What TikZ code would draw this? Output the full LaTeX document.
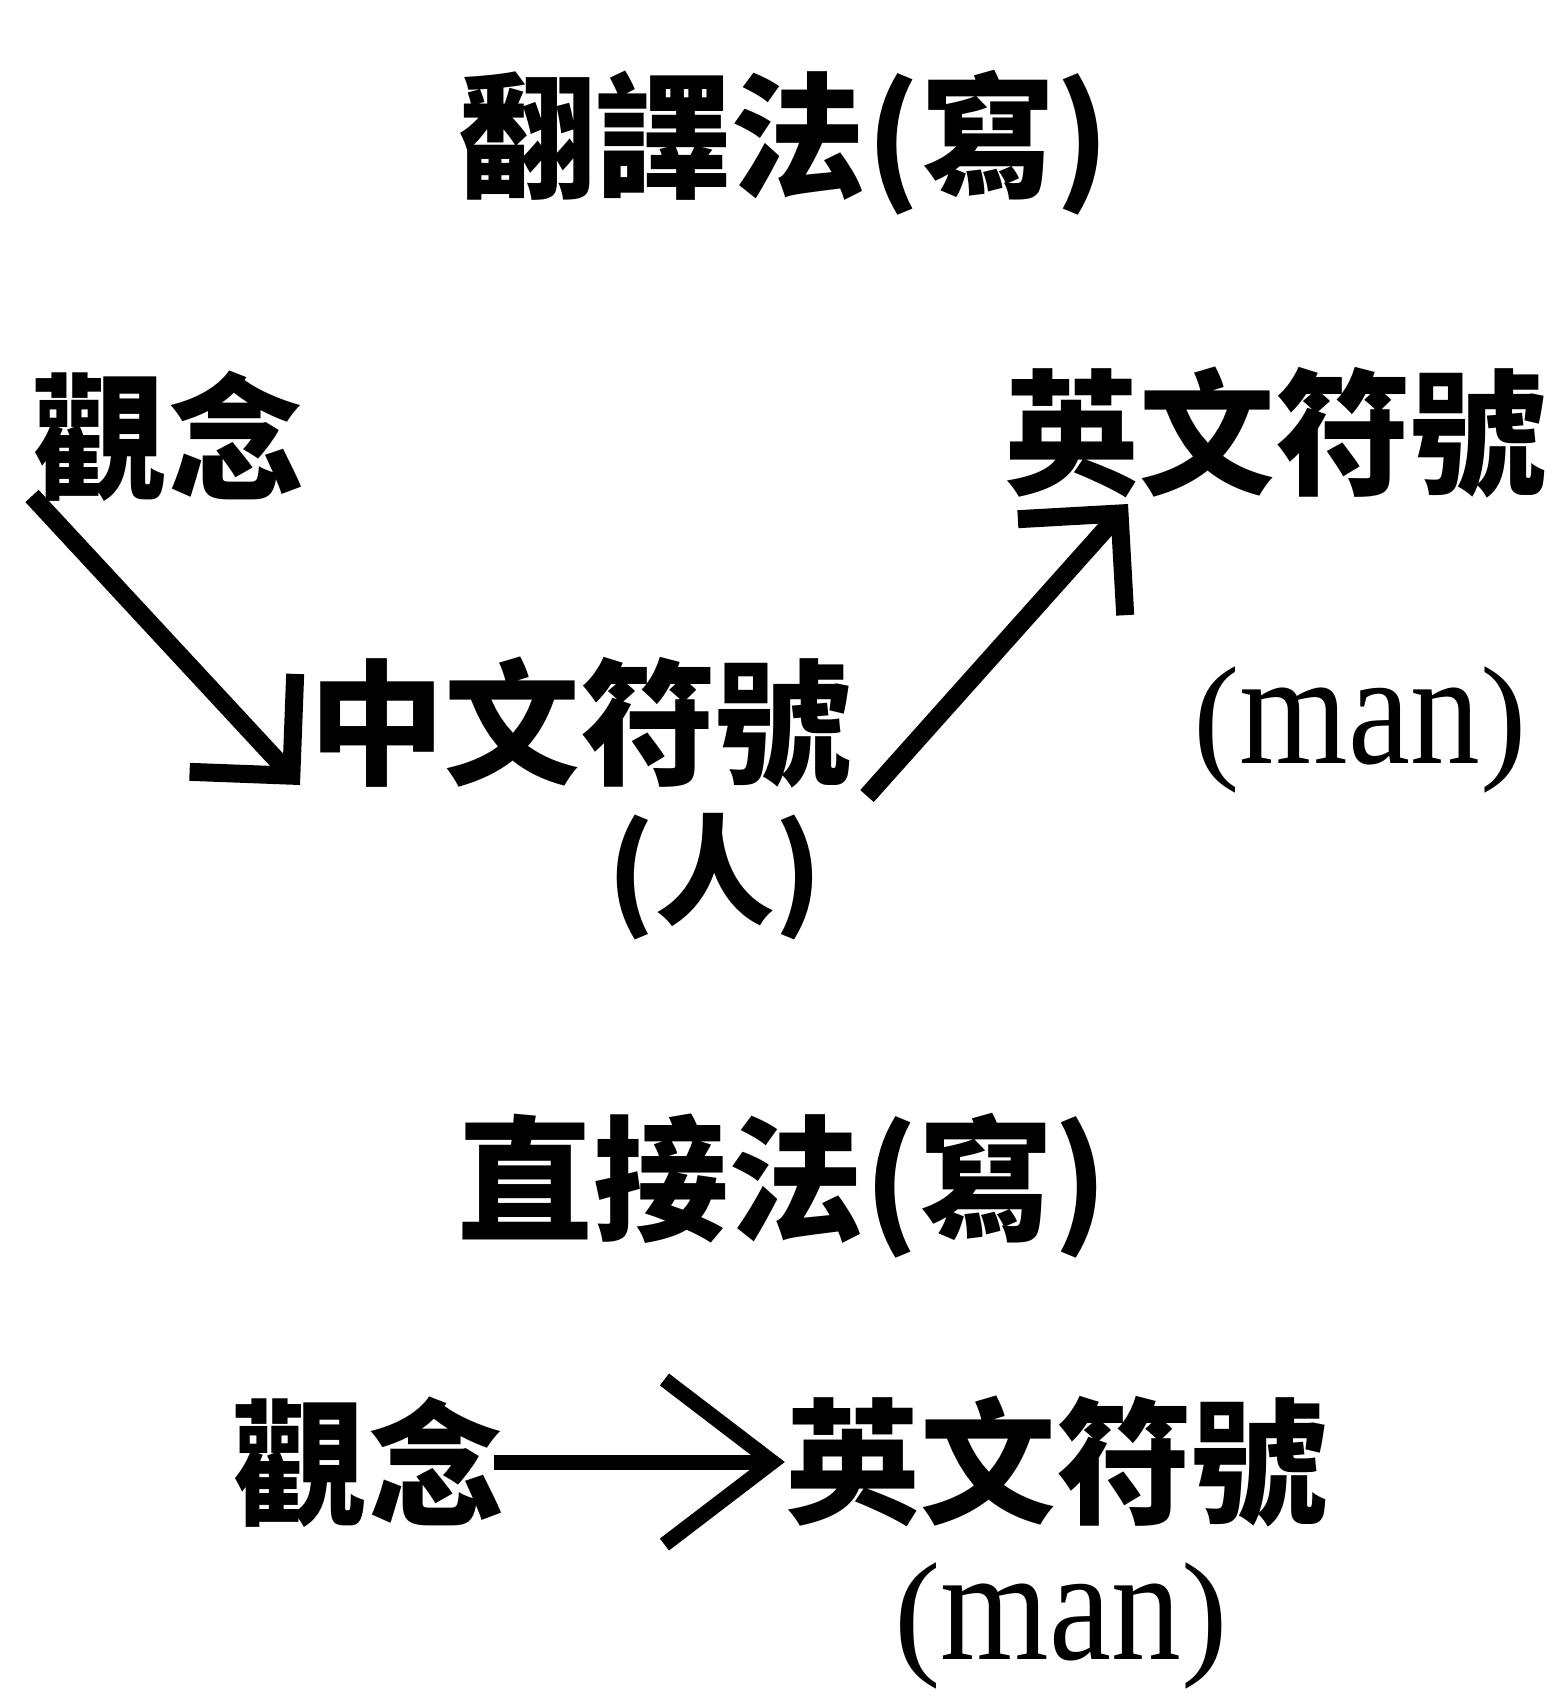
\documentclass[tikz,border=0pt]{standalone}
\usepackage{fontspec}
\usepackage{graphicx}
\newfontfamily\cjk{Noto Sans CJK TC}
\newfontfamily\latinserif{Liberation Serif}
\usetikzlibrary{arrows.meta}
\newcommand{\tallman}{(\scalebox{1}[1.15]{man})}
\begin{document}
\begin{tikzpicture}[x=1bp,y=-1bp,
  zh/.style={font=\cjk\bfseries\fontsize{136}{140}\selectfont, inner sep=0pt},
  zhsmall/.style={font=\cjk\bfseries\fontsize{120}{124}\selectfont, inner sep=0pt},
  en/.style={font=\latinserif\fontsize{140}{145}\selectfont, inner sep=0pt},
  bigarrow/.style={line width=18bp, -{Straight Barb[length=72bp, width=144bp]}},
  flatarrow/.style={line width=15bp, -{Straight Barb[length=108bp, width=165bp]}}]
\useasboundingbox (0,0) rectangle (1563,1698);
\node[zh] (t1) at (785,143) {翻譯法(寫)};
\node[zh] (g1) at (168,436) {觀念};
\node[zh] (e1) at (1275,433) {英文符號};
\node[zh] (c1) at (580,723) {中文符號};
\node[zhsmall] (r1) at (715,877) {(人)};
\node[en] (m1) at (1360,730) {\tallman};
\node[zh] (t2) at (783,1186) {直接法(寫)};
\node[zh] (g2) at (368,1462) {觀念};
\node[zh] (e2) at (1056,1462) {英文符號};
\node[en] (m2) at (1061,1626) {\tallman};
\coordinate (a1s) at (32,496);
\coordinate (a1e) at (300,785);
\coordinate (a2s) at (867,796);
\coordinate (a2e) at (1128,504);
\draw[bigarrow] (a1s) -- (a1e);
\draw[bigarrow] (a2s) -- (a2e);
\draw[flatarrow, shorten <=-10bp] (g2.east) -- (e2.west);
\end{tikzpicture}
\end{document}
